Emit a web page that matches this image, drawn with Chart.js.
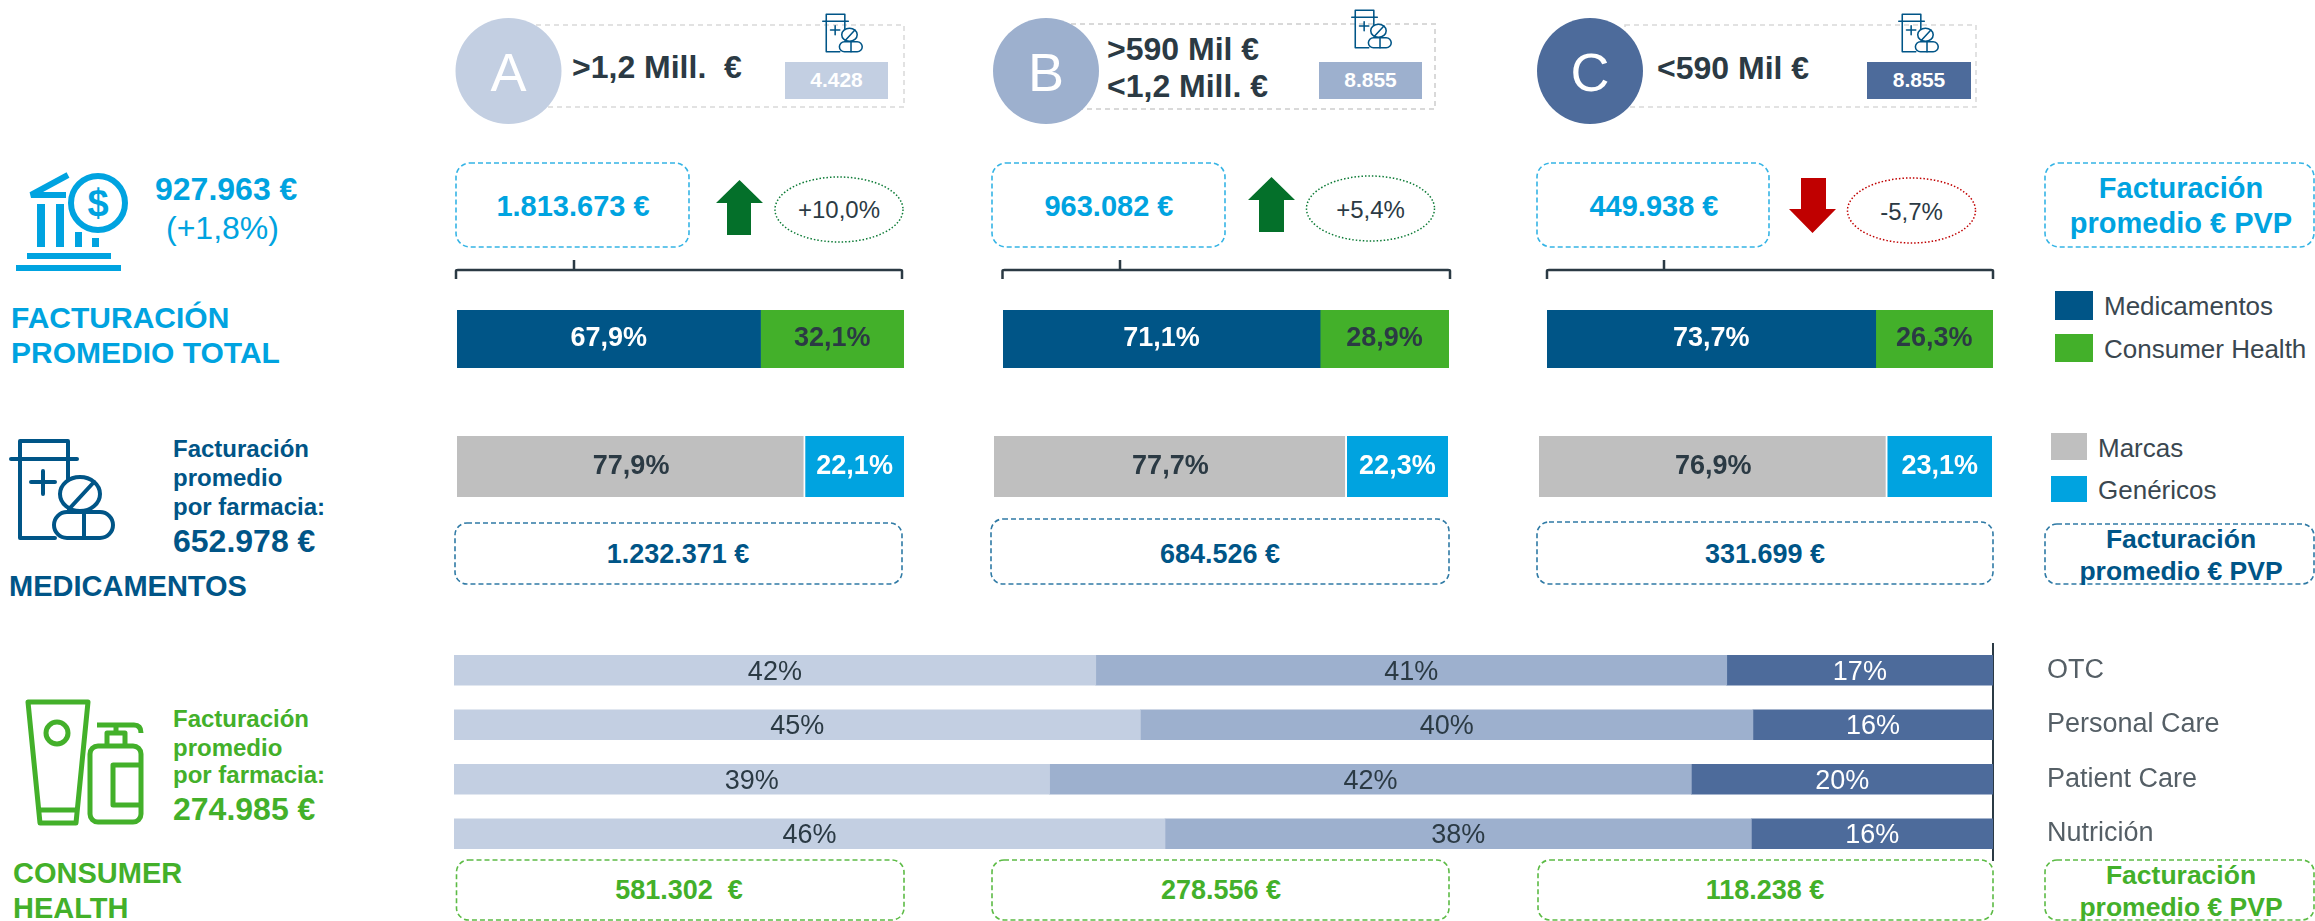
<!DOCTYPE html>
<html lang="es">
<head>
<meta charset="utf-8">
<title>Facturación promedio por farmacia</title>
<script src="https://cdn.jsdelivr.net/npm/chart.js@4"></script>
<style>
    html, body { margin: 0; padding: 0; background: #fff; width: 2315px; height: 921px; overflow: hidden; }
    #page { position: relative; width: 2315px; height: 921px; }
    #page canvas { position: absolute; }
    #deco { position: absolute; left: 0; top: 0; }
    text { font-family: "Liberation Sans", Arial, sans-serif; white-space: pre; }
</style>
</head>
<body>
<div id="page">
<svg id="deco" width="2315" height="921" viewBox="0 0 2315 921" xmlns="http://www.w3.org/2000/svg">
    <defs>
        <!-- bottle with pills, used big and small -->
        <symbol id="bottle" viewBox="0 0 106 103">
            <g fill="none" stroke="#005587" stroke-width="4" stroke-linecap="round" stroke-linejoin="round">
                <path d="M11 21V3H59V21"/>
                <path d="M2 21H68"/>
                <path d="M11 21V100H46"/>
                <path d="M59 21V42"/>
                <path d="M34 33V56M22 44H46"/>
                <ellipse cx="71" cy="56" rx="20" ry="17"/>
                <path d="M60 71L85 44"/>
                <rect x="45" y="74" width="59" height="26" rx="13" fill="#fff"/>
                <path d="M75 74V100"/>
            </g>
        </symbol>
    </defs>
</svg>
</div>

<script>
// tiers
const TIERS = ["A", "B", "C"];
const TIER_RANGES = [[">1,2 Mill.  €"], [">590 Mil €", "<1,2 Mill. €"], ["<590 Mil €"]];
const PHARMACIES = ["4.428", "8.855", "8.855"];
const TOTAL_SALES = ["1.813.673 €", "963.082 €", "449.938 €"];
const TOTAL_CHANGE = ["+10,0%", "+5,4%", "-5,7%"];
const MED_SALES = ["1.232.371 €", "684.526 €", "331.699 €"];
const CH_SALES = ["581.302  €", "278.556 €", "118.238 €"];

// split of total sales
const MED_SHARE = [67.9, 71.1, 73.7];
const CH_SHARE = [32.1, 28.9, 26.3];
// split of medicines
const BRAND_SHARE = [77.9, 77.7, 76.9];
const GENERIC_SHARE = [22.1, 22.3, 23.1];

// consumer health by tier
const CH_CATEGORIES = ["OTC", "Personal Care", "Patient Care", "Nutrición"];
const CH_TIER_A = [41.7, 44.6, 38.7, 46.2];
const CH_TIER_B = [41.0, 39.8, 41.7, 38.1];
const CH_TIER_C = [17.3, 15.6, 19.6, 15.7];

const DARK = "#2B3A44";
const CYAN = "#00A3E0";
const NAVY = "#005587";
const GREEN = "#43B02A";
const GREY = "#BFBFBF";
const TIER_COLORS = ["#C3CFE2", "#9DB0CE", "#4D6B9B"];

Chart.defaults.font.family = '"Liberation Sans", Arial, sans-serif';
Chart.defaults.animation = false;

// writes the value in the middle of each bar segment
const segmentLabels = {
    id: "segmentLabels",
    afterDatasetsDraw(chart, args, opts) {
        const ctx = chart.ctx;
        ctx.save();
        ctx.font = opts.font;
        ctx.textAlign = "center";
        ctx.textBaseline = "middle";
        chart.data.datasets.forEach((ds, d) => {
            chart.getDatasetMeta(d).data.forEach((bar, i) => {
                const p = bar.getCenterPoint();
                ctx.fillStyle = ds.labelColor;
                ctx.fillText(opts.format(ds.data[i]), p.x, p.y + (opts.dy || 0));
            });
        });
        ctx.restore();
    }
};
Chart.register(segmentLabels);

function addCanvas(left, top, w, h) {
    const c = document.createElement("canvas");
    c.width = w;
    c.height = h;
    c.style.left = left + "px";
    c.style.top = top + "px";
    document.getElementById("page").appendChild(c);
    return c;
}

const oneDecimal = (v) => v.toFixed(1).replace(".", ",") + "%";

// one 100% stacked bar, canvas is exactly the size of the bar
function shareBar(box, first, second, gap) {
    new Chart(addCanvas(box[0], box[1], box[2], box[3]), {
        type: "bar",
        data: {
            labels: [""],
            datasets: [
                { data: [first.value], backgroundColor: first.color, labelColor: first.text,
                    borderColor: "#fff", borderWidth: { right: gap }, borderSkipped: false },
                { data: [second.value], backgroundColor: second.color, labelColor: second.text }
            ]
        },
        options: {
            indexAxis: "y",
            responsive: false,
            layout: { padding: 0 },
            barPercentage: 1,
            categoryPercentage: 1,
            scales: {
                x: { stacked: true, display: false, min: 0, max: 100 },
                y: { stacked: true, display: false }
            },
            plugins: {
                legend: { display: false },
                tooltip: { enabled: false },
                segmentLabels: { font: "bold 27px 'Liberation Sans', Arial", format: oneDecimal }
            }
        }
    });
}

const SALES_BARS = [[457, 310, 447, 58], [1003, 310, 446, 58], [1547, 310, 446, 58]];
const MED_BARS = [[457, 436, 447, 61], [994, 436, 454, 61], [1539, 436, 453, 61]];

TIERS.forEach((t, i) => {
    shareBar(SALES_BARS[i],
        { value: MED_SHARE[i], color: NAVY, text: "#fff" },
        { value: CH_SHARE[i], color: GREEN, text: DARK }, 0);
    shareBar(MED_BARS[i],
        { value: BRAND_SHARE[i], color: GREY, text: DARK },
        { value: GENERIC_SHARE[i], color: CYAN, text: "#fff" }, 2);
});

// consumer health, categories on an axis at the right
const CH_LEFT = 454, CH_PLOT_WIDTH = 1539, CH_CANVAS_WIDTH = 1861;
new Chart(addCanvas(CH_LEFT, 643, CH_CANVAS_WIDTH, 218), {
    type: "bar",
    data: {
        labels: CH_CATEGORIES,
        datasets: [
            { data: CH_TIER_A, backgroundColor: TIER_COLORS[0], labelColor: DARK },
            { data: CH_TIER_B, backgroundColor: TIER_COLORS[1], labelColor: DARK },
            { data: CH_TIER_C, backgroundColor: TIER_COLORS[2], labelColor: "#fff" }
        ]
    },
    options: {
        indexAxis: "y",
        responsive: false,
        layout: { padding: 0 },
        barThickness: 30,
        scales: {
            x: { stacked: true, display: false, min: 0, max: 100 },
            y: {
                stacked: true,
                position: "right",
                // fixed plot width, and no room kept for the tick label height
                afterFit: (scale) => {
                    scale.width = CH_CANVAS_WIDTH - CH_PLOT_WIDTH;
                    scale.paddingTop = 0;
                    scale.paddingBottom = 0;
                },
                grid: { display: false, drawTicks: false },
                border: { display: true, color: DARK, width: 2 },
                ticks: { color: "#555F66", font: { size: 27 }, padding: 54 }
            }
        },
        plugins: {
            legend: { display: false },
            tooltip: { enabled: false },
            segmentLabels: { font: "27px 'Liberation Sans', Arial", dy: 2, format: (v) => Math.round(v) + "%" }
        }
    }
});

// everything around the bars
const svg = document.getElementById("deco");
const NS = "http://www.w3.org/2000/svg";

function el(name, attrs, content) {
    const e = document.createElementNS(NS, name);
    for (const k in attrs) e.setAttribute(k, attrs[k]);
    if (content !== undefined) e.textContent = content;
    svg.appendChild(e);
    return e;
}
function txt(x, y, str, size, color, bold, anchor) {
    return el("text", { x: x, y: y, "font-size": size, fill: color,
        "font-weight": bold ? "bold" : "normal", "text-anchor": anchor || "start" }, str);
}
function dashedBox(x1, y1, x2, y2, color, rx, dash, width) {
    el("rect", { x: x1, y: y1, width: x2 - x1, height: y2 - y1, rx: rx === undefined ? 14 : rx,
        fill: "#fff", stroke: color, "stroke-width": width || 1.6, "stroke-dasharray": dash || "5 3" });
}

// header row
const HEAD_BOX = [[536, 25, 904, 107], [1071, 24, 1435, 109], [1625, 25, 1976, 107]];
const CIRCLE_X = [508.5, 1046, 1590];
const RANGE_X = [572, 1107, 1657];
const RANGE_Y = [[78], [60, 97], [79]];
const COUNT_BOX = [[785, 888], [1319, 1422], [1867, 1971]];
const BOTTLE_POS = [[822, 13], [1351, 9], [1898, 13]];

TIERS.forEach((t, i) => {
    dashedBox(HEAD_BOX[i][0], HEAD_BOX[i][1], HEAD_BOX[i][2], HEAD_BOX[i][3], "#D9D9D9", 0, "5 4", i === 1 ? 2 : 1.5);
    el("circle", { cx: CIRCLE_X[i], cy: 71, r: 53, fill: TIER_COLORS[i] });
    txt(CIRCLE_X[i], 91, t, 54, "#fff", false, "middle");
    TIER_RANGES[i].forEach((line, l) => txt(RANGE_X[i], RANGE_Y[i][l], line, 32, DARK, true));
    el("rect", { x: COUNT_BOX[i][0], y: 62, width: COUNT_BOX[i][1] - COUNT_BOX[i][0], height: 37, fill: TIER_COLORS[i] });
    txt((COUNT_BOX[i][0] + COUNT_BOX[i][1]) / 2, 87, PHARMACIES[i], 21, "#fff", true, "middle");
    el("use", { href: "#bottle", x: BOTTLE_POS[i][0], y: BOTTLE_POS[i][1], width: 41, height: 40 });
});

// total sales row
const SALES_BOX = [[456, 689], [992, 1225], [1537, 1769]];
const SALES_X = [573, 1109, 1654];
const CHANGE_ELLIPSE = [[839, 209.5], [1370.5, 208.5], [1911.5, 210.5]];
const CHANGE_STROKE = ["#0B7A35", "#0B7A35", "#C00000"];
const CHANGE_TEXT_Y = [218, 218, 220];
const ARROWS = [
    "739.5,180 763,203 751,203 751,235 727,235 727,203 716,203",
    "1271.5,177 1295,200 1284,200 1284,232 1259,232 1259,200 1248,200",
    "1801,178 1826,178 1826,209 1836,209 1812.5,233 1789,209 1801,209"
];
const ARROW_FILL = ["#04702A", "#04702A", "#C00000"];
const BRACKET = [[456, 574, 902], [1002.5, 1120, 1450], [1547, 1664, 1993]];

TIERS.forEach((t, i) => {
    dashedBox(SALES_BOX[i][0], 163, SALES_BOX[i][1], 247, "#35B4E5");
    txt(SALES_X[i], 216, TOTAL_SALES[i], 29, CYAN, true, "middle");
    el("polygon", { points: ARROWS[i], fill: ARROW_FILL[i] });
    el("ellipse", { cx: CHANGE_ELLIPSE[i][0], cy: CHANGE_ELLIPSE[i][1], rx: 64, ry: 32.5, fill: "none",
        stroke: CHANGE_STROKE[i], "stroke-width": 1.5, "stroke-dasharray": "1.5 2" });
    txt(CHANGE_ELLIPSE[i][0], CHANGE_TEXT_Y[i], TOTAL_CHANGE[i], 24, DARK, false, "middle");
    const b = BRACKET[i];
    el("path", { d: `M${b[0]} 279V271Q${b[0]} 270 ${b[0] + 2} 270H${b[2] - 2}Q${b[2]} 270 ${b[2]} 271V279M${b[1]} 260V270`,
        fill: "none", stroke: DARK, "stroke-width": 2.5 });
});
dashedBox(2045, 163, 2314, 247, "#35B4E5");
txt(2181, 198, "Facturación", 29, CYAN, true, "middle");
txt(2181, 233, "promedio € PVP", 29, CYAN, true, "middle");

// medicines totals
const MED_BOX = [[455, 523, 902], [991, 519, 1449], [1537, 522, 1993]];
const MED_X = [678, 1220, 1765];
TIERS.forEach((t, i) => {
    dashedBox(MED_BOX[i][0], MED_BOX[i][1], MED_BOX[i][2], 584, "#2F7AA5", 12);
    txt(MED_X[i], 563, MED_SALES[i], 27, NAVY, true, "middle");
});
dashedBox(2045, 524, 2314, 584, "#2F7AA5", 12);
txt(2181, 548, "Facturación", 26.5, NAVY, true, "middle");
txt(2181, 580, "promedio € PVP", 26.5, NAVY, true, "middle");

// consumer health totals
const CH_BOX = [[456.5, 904], [992, 1449], [1538, 1993]];
const CH_X = [679, 1221, 1765];
TIERS.forEach((t, i) => {
    dashedBox(CH_BOX[i][0], 860, CH_BOX[i][1], 920, "#5CBB45", 12);
    txt(CH_X[i], 899, CH_SALES[i], 27, GREEN, true, "middle");
});
dashedBox(2045, 860, 2314, 920, "#5CBB45", 12);
txt(2181, 884, "Facturación", 26.5, GREEN, true, "middle");
txt(2181, 916, "promedio € PVP", 26.5, GREEN, true, "middle");

// legends
el("rect", { x: 2055, y: 291, width: 38, height: 29, fill: NAVY });
txt(2104, 315, "Medicamentos", 26, "#3A4750");
el("rect", { x: 2055, y: 334, width: 38, height: 28, fill: GREEN });
txt(2104, 358, "Consumer Health", 26, "#3A4750");
el("rect", { x: 2051, y: 433, width: 36, height: 27, fill: GREY });
txt(2098, 457, "Marcas", 26, "#3A4750");
el("rect", { x: 2051, y: 476, width: 36, height: 26, fill: CYAN });
txt(2098, 499, "Genéricos", 26, "#3A4750");

// left column: total
const bank = { fill: "none", stroke: CYAN };
el("path", Object.assign({ d: "M68 175L31 195H66", "stroke-width": 6, "stroke-linejoin": "miter" }, bank));
el("circle", Object.assign({ cx: 98, cy: 203, r: 27, "stroke-width": 6 }, bank));
txt(98, 216, "$", 38, CYAN, true, "middle");
[[37, 204, 8, 43], [56, 204, 8, 43], [75, 232, 7, 15], [92, 238, 7, 9], [27, 253, 84, 6], [16, 265, 105, 6]].forEach((r) => {
    el("rect", { x: r[0], y: r[1], width: r[2], height: r[3], fill: CYAN });
});
txt(155, 200, "927.963 €", 32, CYAN, true);
txt(166, 239, "(+1,8%)", 32, CYAN);
txt(11, 328, "FACTURACIÓN", 30, CYAN, true);
txt(11, 363, "PROMEDIO TOTAL", 30, CYAN, true);

// left column: medicines
el("use", { href: "#bottle", x: 9, y: 438, width: 106, height: 103 });
txt(173, 457, "Facturación", 24, NAVY, true);
txt(173, 486, "promedio", 24, NAVY, true);
txt(173, 515, "por farmacia:", 24, NAVY, true);
txt(173, 552, "652.978 €", 32, NAVY, true);
txt(9, 596, "MEDICAMENTOS", 29, NAVY, true);

// left column: consumer health
const tube = { fill: "none", stroke: GREEN, "stroke-width": 5, "stroke-linejoin": "round" };
el("path", Object.assign({ d: "M28 702H88L76 823H40ZM39 810H77" }, tube));
el("circle", Object.assign({ cx: 57, cy: 733, r: 11 }, tube));
el("rect", Object.assign({ x: 90, y: 746, width: 51, height: 76, rx: 8 }, tube));
el("path", Object.assign({ d: "M107 746V733H125V746M116 733V725M97 725H134Q141 725 141 733M141 765H113V805H141" }, tube));
txt(173, 727, "Facturación", 24, GREEN, true);
txt(173, 756, "promedio", 24, GREEN, true);
txt(173, 783, "por farmacia:", 24, GREEN, true);
txt(173, 820, "274.985 €", 32, GREEN, true);
txt(13, 883, "CONSUMER", 29, GREEN, true);
txt(13, 918, "HEALTH", 29, GREEN, true);
</script>
</body>
</html>
